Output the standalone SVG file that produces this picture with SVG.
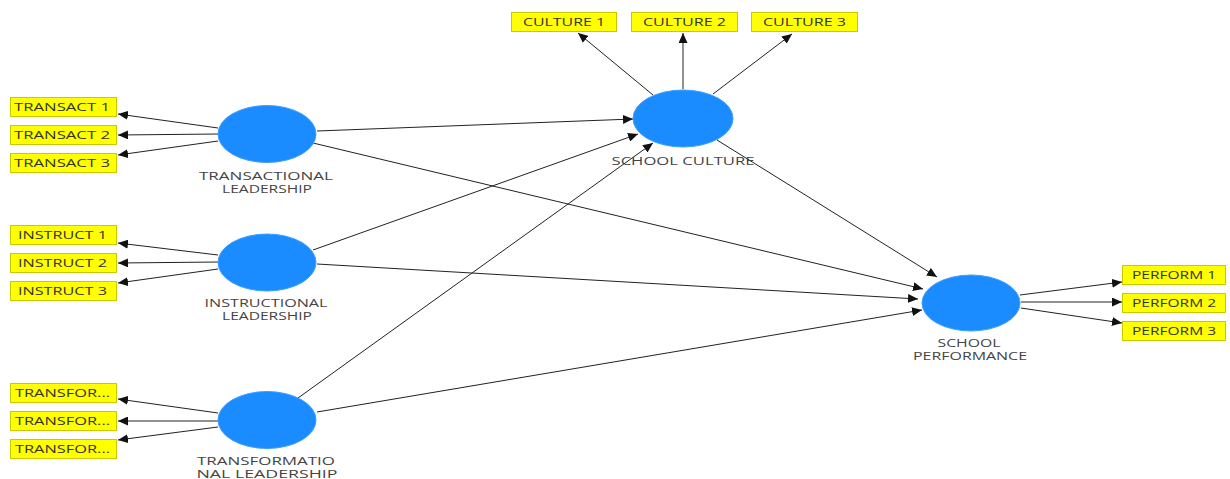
<svg xmlns="http://www.w3.org/2000/svg" width="1230" height="479" viewBox="0 0 1230 479">
<style>
.box{fill:#ffff00;stroke:#c9c900;stroke-width:1}
.bt{font-family:"Open Sans","Noto Sans",sans-serif;font-size:10.5px;fill:#333}
.lv{fill:#1a8cff;stroke:#3d9eff;stroke-width:1}
.lt{font-family:"Open Sans","Noto Sans",sans-serif;font-size:10.5px;fill:#444;text-anchor:middle}
.c line{stroke:#222;stroke-width:1;marker-end:url(#ah)}
</style>
<defs>
<marker id="ah" markerUnits="userSpaceOnUse" markerWidth="11" markerHeight="9" refX="10" refY="4.5" orient="auto">
<path d="M0,0 L10,4.5 L0,9 z" fill="#111"/>
</marker>
</defs>
<rect width="1230" height="479" fill="#fff"/>
<g class="c" id="connectors">
<line x1="218" y1="128" x2="118" y2="114"/>
<line x1="218" y1="134" x2="118" y2="135"/>
<line x1="218" y1="141" x2="118" y2="155"/>
<line x1="218" y1="255" x2="118" y2="243"/>
<line x1="218" y1="262" x2="118" y2="263"/>
<line x1="218" y1="269" x2="118" y2="283"/>
<line x1="218" y1="413" x2="118" y2="399"/>
<line x1="218" y1="421" x2="118" y2="421"/>
<line x1="218" y1="427" x2="118" y2="440"/>
<line x1="653" y1="95" x2="578" y2="33"/>
<line x1="683" y1="89" x2="683" y2="33"/>
<line x1="713" y1="94" x2="792" y2="34"/>
<line x1="1020" y1="295" x2="1122" y2="282"/>
<line x1="1021" y1="302" x2="1122" y2="302"/>
<line x1="1021" y1="308" x2="1122" y2="323"/>
<line x1="317" y1="131" x2="633" y2="119"/>
<line x1="313" y1="143" x2="923" y2="289"/>
<line x1="313" y1="250" x2="638" y2="134"/>
<line x1="317" y1="264" x2="918" y2="299"/>
<line x1="298" y1="398" x2="653" y2="143"/>
<line x1="317" y1="412" x2="922" y2="310"/>
<line x1="717" y1="140" x2="937" y2="277"/>
</g>
<g id="transactional">
<ellipse class="lv" cx="267" cy="134" rx="49" ry="28.5"/>
<text class="lt" x="266" y="180" textLength="134" lengthAdjust="spacingAndGlyphs">TRANSACTIONAL</text>
<text class="lt" x="267" y="193" textLength="90" lengthAdjust="spacingAndGlyphs">LEADERSHIP</text>
</g>
<g id="instructional">
<ellipse class="lv" cx="267" cy="262.5" rx="49" ry="28.5"/>
<text class="lt" x="266" y="307" textLength="123" lengthAdjust="spacingAndGlyphs">INSTRUCTIONAL</text>
<text class="lt" x="267" y="320" textLength="90" lengthAdjust="spacingAndGlyphs">LEADERSHIP</text>
</g>
<g id="transformational">
<ellipse class="lv" cx="267" cy="420" rx="49" ry="28.5"/>
<text class="lt" x="266" y="465" textLength="138" lengthAdjust="spacingAndGlyphs">TRANSFORMATIO</text>
<text class="lt" x="267" y="478" textLength="141" lengthAdjust="spacingAndGlyphs">NAL LEADERSHIP</text>
</g>
<g id="school-culture">
<ellipse class="lv" cx="683" cy="118.5" rx="50" ry="28.5"/>
<text class="lt" x="683" y="165" textLength="143" lengthAdjust="spacingAndGlyphs">SCHOOL CULTURE</text>
</g>
<g id="school-performance">
<ellipse class="lv" cx="971" cy="303" rx="49" ry="28"/>
<text class="lt" x="969" y="347" textLength="63" lengthAdjust="spacingAndGlyphs">SCHOOL</text>
<text class="lt" x="970" y="360" textLength="114" lengthAdjust="spacingAndGlyphs">PERFORMANCE</text>
</g>
<g id="transact1"><rect class="box" x="10.5" y="97.5" width="106" height="19"/><text class="bt" x="14" y="111" textLength="96" lengthAdjust="spacingAndGlyphs">TRANSACT 1</text></g>
<g id="transact2"><rect class="box" x="10.5" y="125.5" width="106" height="19"/><text class="bt" x="14" y="139" textLength="96" lengthAdjust="spacingAndGlyphs">TRANSACT 2</text></g>
<g id="transact3"><rect class="box" x="10.5" y="153.5" width="106" height="19"/><text class="bt" x="14" y="167" textLength="96" lengthAdjust="spacingAndGlyphs">TRANSACT 3</text></g>
<g id="instruct1"><rect class="box" x="10.5" y="225.5" width="106" height="19"/><text class="bt" x="18" y="239" textLength="89" lengthAdjust="spacingAndGlyphs">INSTRUCT 1</text></g>
<g id="instruct2"><rect class="box" x="10.5" y="253.5" width="106" height="19"/><text class="bt" x="18" y="267" textLength="89" lengthAdjust="spacingAndGlyphs">INSTRUCT 2</text></g>
<g id="instruct3"><rect class="box" x="10.5" y="281.5" width="106" height="19"/><text class="bt" x="18" y="295" textLength="89" lengthAdjust="spacingAndGlyphs">INSTRUCT 3</text></g>
<g id="transfor1"><rect class="box" x="10.5" y="383.5" width="106" height="19"/><text class="bt" x="15" y="397" textLength="95" lengthAdjust="spacingAndGlyphs">TRANSFOR...</text></g>
<g id="transfor2"><rect class="box" x="10.5" y="411.5" width="106" height="19"/><text class="bt" x="15" y="425" textLength="95" lengthAdjust="spacingAndGlyphs">TRANSFOR...</text></g>
<g id="transfor3"><rect class="box" x="10.5" y="439.5" width="106" height="19"/><text class="bt" x="15" y="453" textLength="95" lengthAdjust="spacingAndGlyphs">TRANSFOR...</text></g>
<g id="culture1"><rect class="box" x="511.5" y="12.5" width="105" height="19"/><text class="bt" x="523" y="26" textLength="82" lengthAdjust="spacingAndGlyphs">CULTURE 1</text></g>
<g id="culture2"><rect class="box" x="631.5" y="12.5" width="106" height="19"/><text class="bt" x="643" y="26" textLength="83" lengthAdjust="spacingAndGlyphs">CULTURE 2</text></g>
<g id="culture3"><rect class="box" x="751.5" y="12.5" width="106" height="19"/><text class="bt" x="763" y="26" textLength="83" lengthAdjust="spacingAndGlyphs">CULTURE 3</text></g>
<g id="perform1"><rect class="box" x="1122.5" y="265.5" width="103" height="19"/><text class="bt" x="1132" y="279" textLength="84" lengthAdjust="spacingAndGlyphs">PERFORM 1</text></g>
<g id="perform2"><rect class="box" x="1122.5" y="293.5" width="103" height="19"/><text class="bt" x="1132" y="307" textLength="84" lengthAdjust="spacingAndGlyphs">PERFORM 2</text></g>
<g id="perform3"><rect class="box" x="1122.5" y="321.5" width="103" height="19"/><text class="bt" x="1132" y="335" textLength="84" lengthAdjust="spacingAndGlyphs">PERFORM 3</text></g>
</svg>
